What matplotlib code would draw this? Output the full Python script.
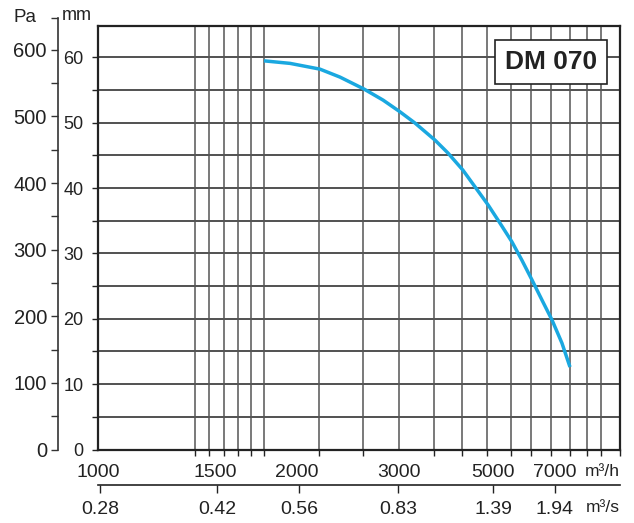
import numpy as np
import matplotlib
matplotlib.use("Agg")
import matplotlib.pyplot as plt
from matplotlib.ticker import NullFormatter, FixedLocator

plt.rcParams['font.family'] = ['Liberation Sans', 'DejaVu Sans']

# ---- data ----
flow_m3h = [1781, 1952, 2191, 2373, 2611, 2816, 3016, 3274, 3648, 3915, 4244,
            4533, 4871, 5193, 5539, 5846, 6180, 6522, 6888, 7271, 7600]
pressure_mm = [59.47, 59.08, 58.2, 56.98, 55.15, 53.46, 51.67, 49.94, 47.34,
               45.36, 42.76, 40.2, 37.4, 34.64, 31.79, 28.99, 25.93, 22.87,
               19.81, 16.29, 12.62]

m3h_labels = [1000, 1500, 2000, 3000, 5000, 7000]
m3s_labels = [0.28, 0.42, 0.56, 0.83, 1.39, 1.94]
mm_major = [0, 10, 20, 30, 40, 50, 60]
mm_minor = [5, 15, 25, 35, 45, 55]
pa_major = [0, 100, 200, 300, 400, 500, 600]
pa_minor = [50, 150, 250, 350, 450, 550]
vgrid_m3h = [1400, 1470, 1550, 1625, 1700, 1780, 2180, 2600, 3000, 3630,
             4230, 4830, 5500, 6150, 6850, 7600, 8350, 9000]
title_text = "DM 070"

# ---- chart scale (non-uniform flow axis of the original diagram) ----
scale_knots = [1000, 1500, 2000, 3000, 5000, 7000, 10000]
scale_pos = np.array([0, 117, 199, 301, 395, 457, 522]) / 522.0
lk = np.log10(scale_knots)

def fwd(x):
    x = np.asarray(x, dtype=float)
    with np.errstate(divide='ignore', invalid='ignore'):
        lx = np.log10(np.clip(x, 1e-9, None))
    return np.interp(lx, lk, scale_pos, left=-1, right=2)

def inv(y):
    return 10 ** np.interp(y, scale_pos, lk)

W, H = 634, 523
fig = plt.figure(figsize=(W / 100, H / 100), dpi=100)
ax_l, ax_r, ax_t, ax_b = 98, 620, 26, 449.5
ax = fig.add_axes([ax_l / W, (H - ax_b) / H, (ax_r - ax_l) / W, (ax_b - ax_t) / H])
ax.set_xscale('function', functions=(fwd, inv))
ax.set_xlim(1000, 10000)
ymax = 64.8
ax.set_ylim(0, ymax)

# grid
for v in mm_major[1:] + mm_minor:
    ax.axhline(v, color='#222222', lw=1.1, zorder=1)
for v in vgrid_m3h:
    ax.axvline(v, color='#555555', lw=1.1, zorder=1)

ax.plot(flow_m3h, pressure_mm, color='#1aa8e0', lw=2.5, zorder=3,
        solid_capstyle='butt', solid_joinstyle='round')

for s in ax.spines.values():
    s.set_linewidth(1.6)
    s.set_color('#222222')

# y ticks mm
ax.set_yticks(mm_major)
ax.set_yticklabels([str(v) for v in mm_major])
ax.set_yticks(mm_minor, minor=True)
ax.tick_params(axis='y', which='both', direction='out', length=4.3, width=1,
               color='#222222', pad=6.0, labelsize=13, labelcolor='#222222')

# x ticks m3/h
ax.xaxis.set_major_locator(FixedLocator(m3h_labels))
ax.set_xticklabels([str(v) for v in m3h_labels])
ax.xaxis.set_minor_locator(FixedLocator([1000] + vgrid_m3h + [10000]))
ax.xaxis.set_minor_formatter(NullFormatter())
ax.tick_params(axis='x', which='major', length=0, pad=10.5, labelsize=14,
               labelcolor='#222222')
ax.tick_params(axis='x', which='minor', direction='out', length=4, width=1,
               color='#222222')

ax.text(0.868, 0.916, title_text, transform=ax.transAxes, ha='center', va='center',
        fontsize=19, fontweight='bold', color='#222222',
        bbox=dict(boxstyle='square,pad=0.38', fc='white', ec='#222222', lw=1.2),
        zorder=5)

# secondary m3/s axis
ax_s = ax.twiny()
ax_s.set_xscale('function', functions=(fwd, inv))
ax_s.set_xlim(1000, 10000)
for k in ('top', 'left', 'right'):
    ax_s.spines[k].set_visible(False)
ax_s.spines['bottom'].set_position(('outward', 25.6))
ax_s.spines['bottom'].set_linewidth(1.2)
ax_s.spines['bottom'].set_color('#222222')
ax_s.xaxis.set_ticks_position('bottom')
ax_s.xaxis.set_label_position('bottom')
ax_s.xaxis.set_major_locator(FixedLocator([v * 3600 for v in m3s_labels]))
ax_s.set_xticklabels([f"{v:.2f}" for v in m3s_labels])
ax_s.xaxis.set_minor_locator(FixedLocator([]))
ax_s.tick_params(axis='x', which='major', direction='out', length=5.5, width=1,
                 color='#222222', pad=6, labelsize=14, labelcolor='#222222')

# Pa axis
pa_top_px = 18
pa_top = ymax * 9.81 * (ax_b - pa_top_px) / (ax_b - ax_t)
ax_p = fig.add_axes([58 / W, (H - ax_b) / H, 0.0001, (ax_b - pa_top_px) / H])
ax_p.set_ylim(0, pa_top)
ax_p.patch.set_visible(False)
for k in ('top', 'bottom', 'right'):
    ax_p.spines[k].set_visible(False)
ax_p.spines['left'].set_linewidth(1.2)
ax_p.spines['left'].set_color('#333333')
ax_p.set_xticks([])
ax_p.set_yticks(pa_major)
ax_p.set_yticklabels([str(v) for v in pa_major])
ax_p.yaxis.set_minor_locator(FixedLocator(pa_minor + [pa_top]))
ax_p.tick_params(axis='y', which='both', direction='out', length=5, width=1,
                 color='#333333', pad=3, labelsize=14.5, labelcolor='#222222')

fig.text(25 / W, 1 - 17 / H, 'Pa', ha='center', va='center', fontsize=13.5, color='#222222')
fig.text(77 / W, 1 - 16 / H, 'mm', ha='center', va='center', fontsize=13, color='#222222')
fig.text(620 / W, 1 - 471 / H, 'm³/h', ha='right', va='center', fontsize=12.5, color='#222222')
fig.text(620 / W, 1 - 507 / H, 'm³/s', ha='right', va='center', fontsize=12.5, color='#222222')

fig.savefig('out.png', dpi=100)
